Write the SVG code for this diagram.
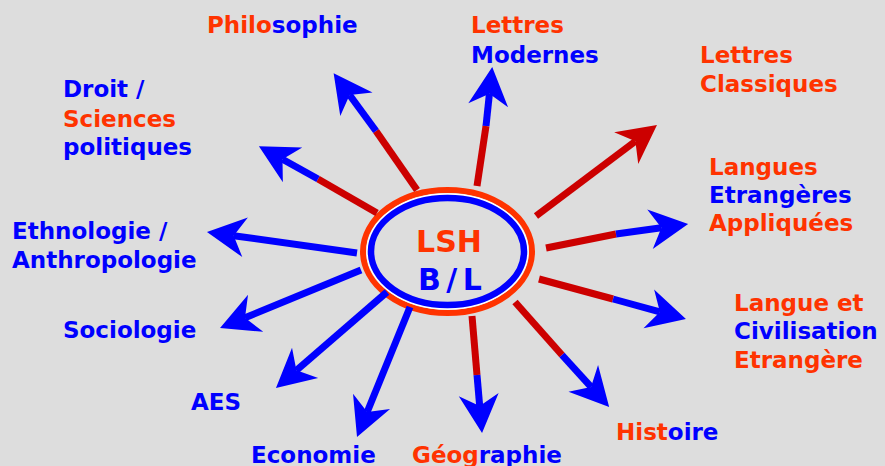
<svg xmlns="http://www.w3.org/2000/svg" width="885" height="466" viewBox="0 0 885 466">
<style>
text{font-family:"DejaVu Sans","Verdana",sans-serif;font-weight:bold;font-size:23px}
.o{fill:#ff3300}
.b{fill:#0000ff}
.red{stroke:#cc0000;stroke-width:7;fill:none}
.blue{stroke:#0000ff;stroke-width:7;fill:none}
.hb{marker-end:url(#headB)}
.hr{marker-end:url(#headR)}
</style>
<defs>
<marker id="headB" markerUnits="userSpaceOnUse" orient="auto" viewBox="-12 -21 40 42" refX="0" refY="0" markerWidth="40" markerHeight="42" overflow="visible">
<path d="M27,0 L-11.5,-20 L0,0 L-11.5,20 Z" fill="#0000ff"/>
</marker>
<marker id="headR" markerUnits="userSpaceOnUse" orient="auto" viewBox="-12 -21 40 42" refX="0" refY="0" markerWidth="40" markerHeight="42" overflow="visible">
<path d="M27,0 L-11.5,-20 L0,0 L-11.5,20 Z" fill="#cc0000"/>
</marker>
</defs>
<rect width="885" height="466" fill="#dddddd"/>

<g id="center">
<ellipse cx="447.5" cy="251.5" rx="84.5" ry="61.5" fill="#dddddd" stroke="#ff3300" stroke-width="6"/>
<ellipse cx="447.5" cy="251.5" rx="80.5" ry="57.5" fill="none" stroke="#ffffff" stroke-width="1.5"/>
<ellipse cx="447.5" cy="251.5" rx="76.5" ry="53.5" fill="none" stroke="#0000ff" stroke-width="6.5"/>
<text x="449" y="252" text-anchor="middle" class="o" style="font-size:30px">LSH</text>
<text x="418" y="290" class="b" style="font-size:30px;letter-spacing:5.5px">B/L</text>
</g>

<g id="connectors">
<line class="red" x1="417" y1="190" x2="376" y2="131"/>
<line class="blue hb" x1="376" y1="131" x2="349.6" y2="95"/>
<line class="red" x1="377" y1="213" x2="318" y2="179"/>
<line class="blue hb" x1="318" y1="179" x2="282.5" y2="159.3"/>
<line class="red" x1="477" y1="186" x2="486" y2="126"/>
<line class="blue hb" x1="486" y1="126" x2="489.4" y2="93.8"/>
<line class="red hr" x1="536" y1="216" x2="635.4" y2="141.2"/>
<line class="red" x1="546" y1="248" x2="616" y2="234"/>
<line class="blue hb" x1="616" y1="234" x2="661.4" y2="227.7"/>
<line class="red" x1="539" y1="279" x2="613" y2="299"/>
<line class="blue hb" x1="613" y1="299" x2="659.9" y2="311.9"/>
<line class="red" x1="515" y1="302" x2="562" y2="355"/>
<line class="blue hb" x1="562" y1="355" x2="591" y2="386.9"/>
<line class="red" x1="472" y1="316" x2="477" y2="375"/>
<line class="blue hb" x1="477" y1="375" x2="479.7" y2="406.1"/>
<line class="blue hb" x1="410" y1="307" x2="367.2" y2="412"/>
<line class="blue hb" x1="387" y1="292" x2="296.4" y2="370.3"/>
<line class="blue hb" x1="361" y1="270" x2="245" y2="317.7"/>
<line class="blue hb" x1="357" y1="253" x2="233.7" y2="235.7"/>
</g>

<g id="philosophie"><text x="207" y="33"><tspan class="o">Philo</tspan><tspan class="b">sophie</tspan></text></g>
<g id="lettres-modernes"><text x="471" y="33" class="o">Lettres</text><text x="471" y="63" class="b">Modernes</text></g>
<g id="lettres-classiques"><text x="700" y="63" class="o">Lettres</text><text x="700" y="92" class="o">Classiques</text></g>
<g id="droit"><text x="63" y="97" class="b">Droit /</text><text x="63" y="127" class="o">Sciences</text><text x="63" y="155" class="b">politiques</text></g>
<g id="lea"><text x="709" y="175" class="o">Langues</text><text x="709" y="203" class="b">Etrangères</text><text x="709" y="231" class="o">Appliquées</text></g>
<g id="lce"><text x="734" y="311" class="o">Langue et</text><text x="734" y="339" class="b">Civilisation</text><text x="734" y="368" class="o">Etrangère</text></g>
<g id="ethnologie"><text x="12" y="239" class="b">Ethnologie /</text><text x="12" y="268" class="b">Anthropologie</text></g>
<g id="sociologie"><text x="63" y="338" class="b">Sociologie</text></g>
<g id="aes"><text x="191" y="410" class="b">AES</text></g>
<g id="economie"><text x="251" y="463" class="b">Economie</text></g>
<g id="geographie"><text x="412" y="463"><tspan class="o">Géog</tspan><tspan class="b">raphie</tspan></text></g>
<g id="histoire"><text x="616" y="440"><tspan class="o">Hist</tspan><tspan class="b">oire</tspan></text></g>
</svg>
